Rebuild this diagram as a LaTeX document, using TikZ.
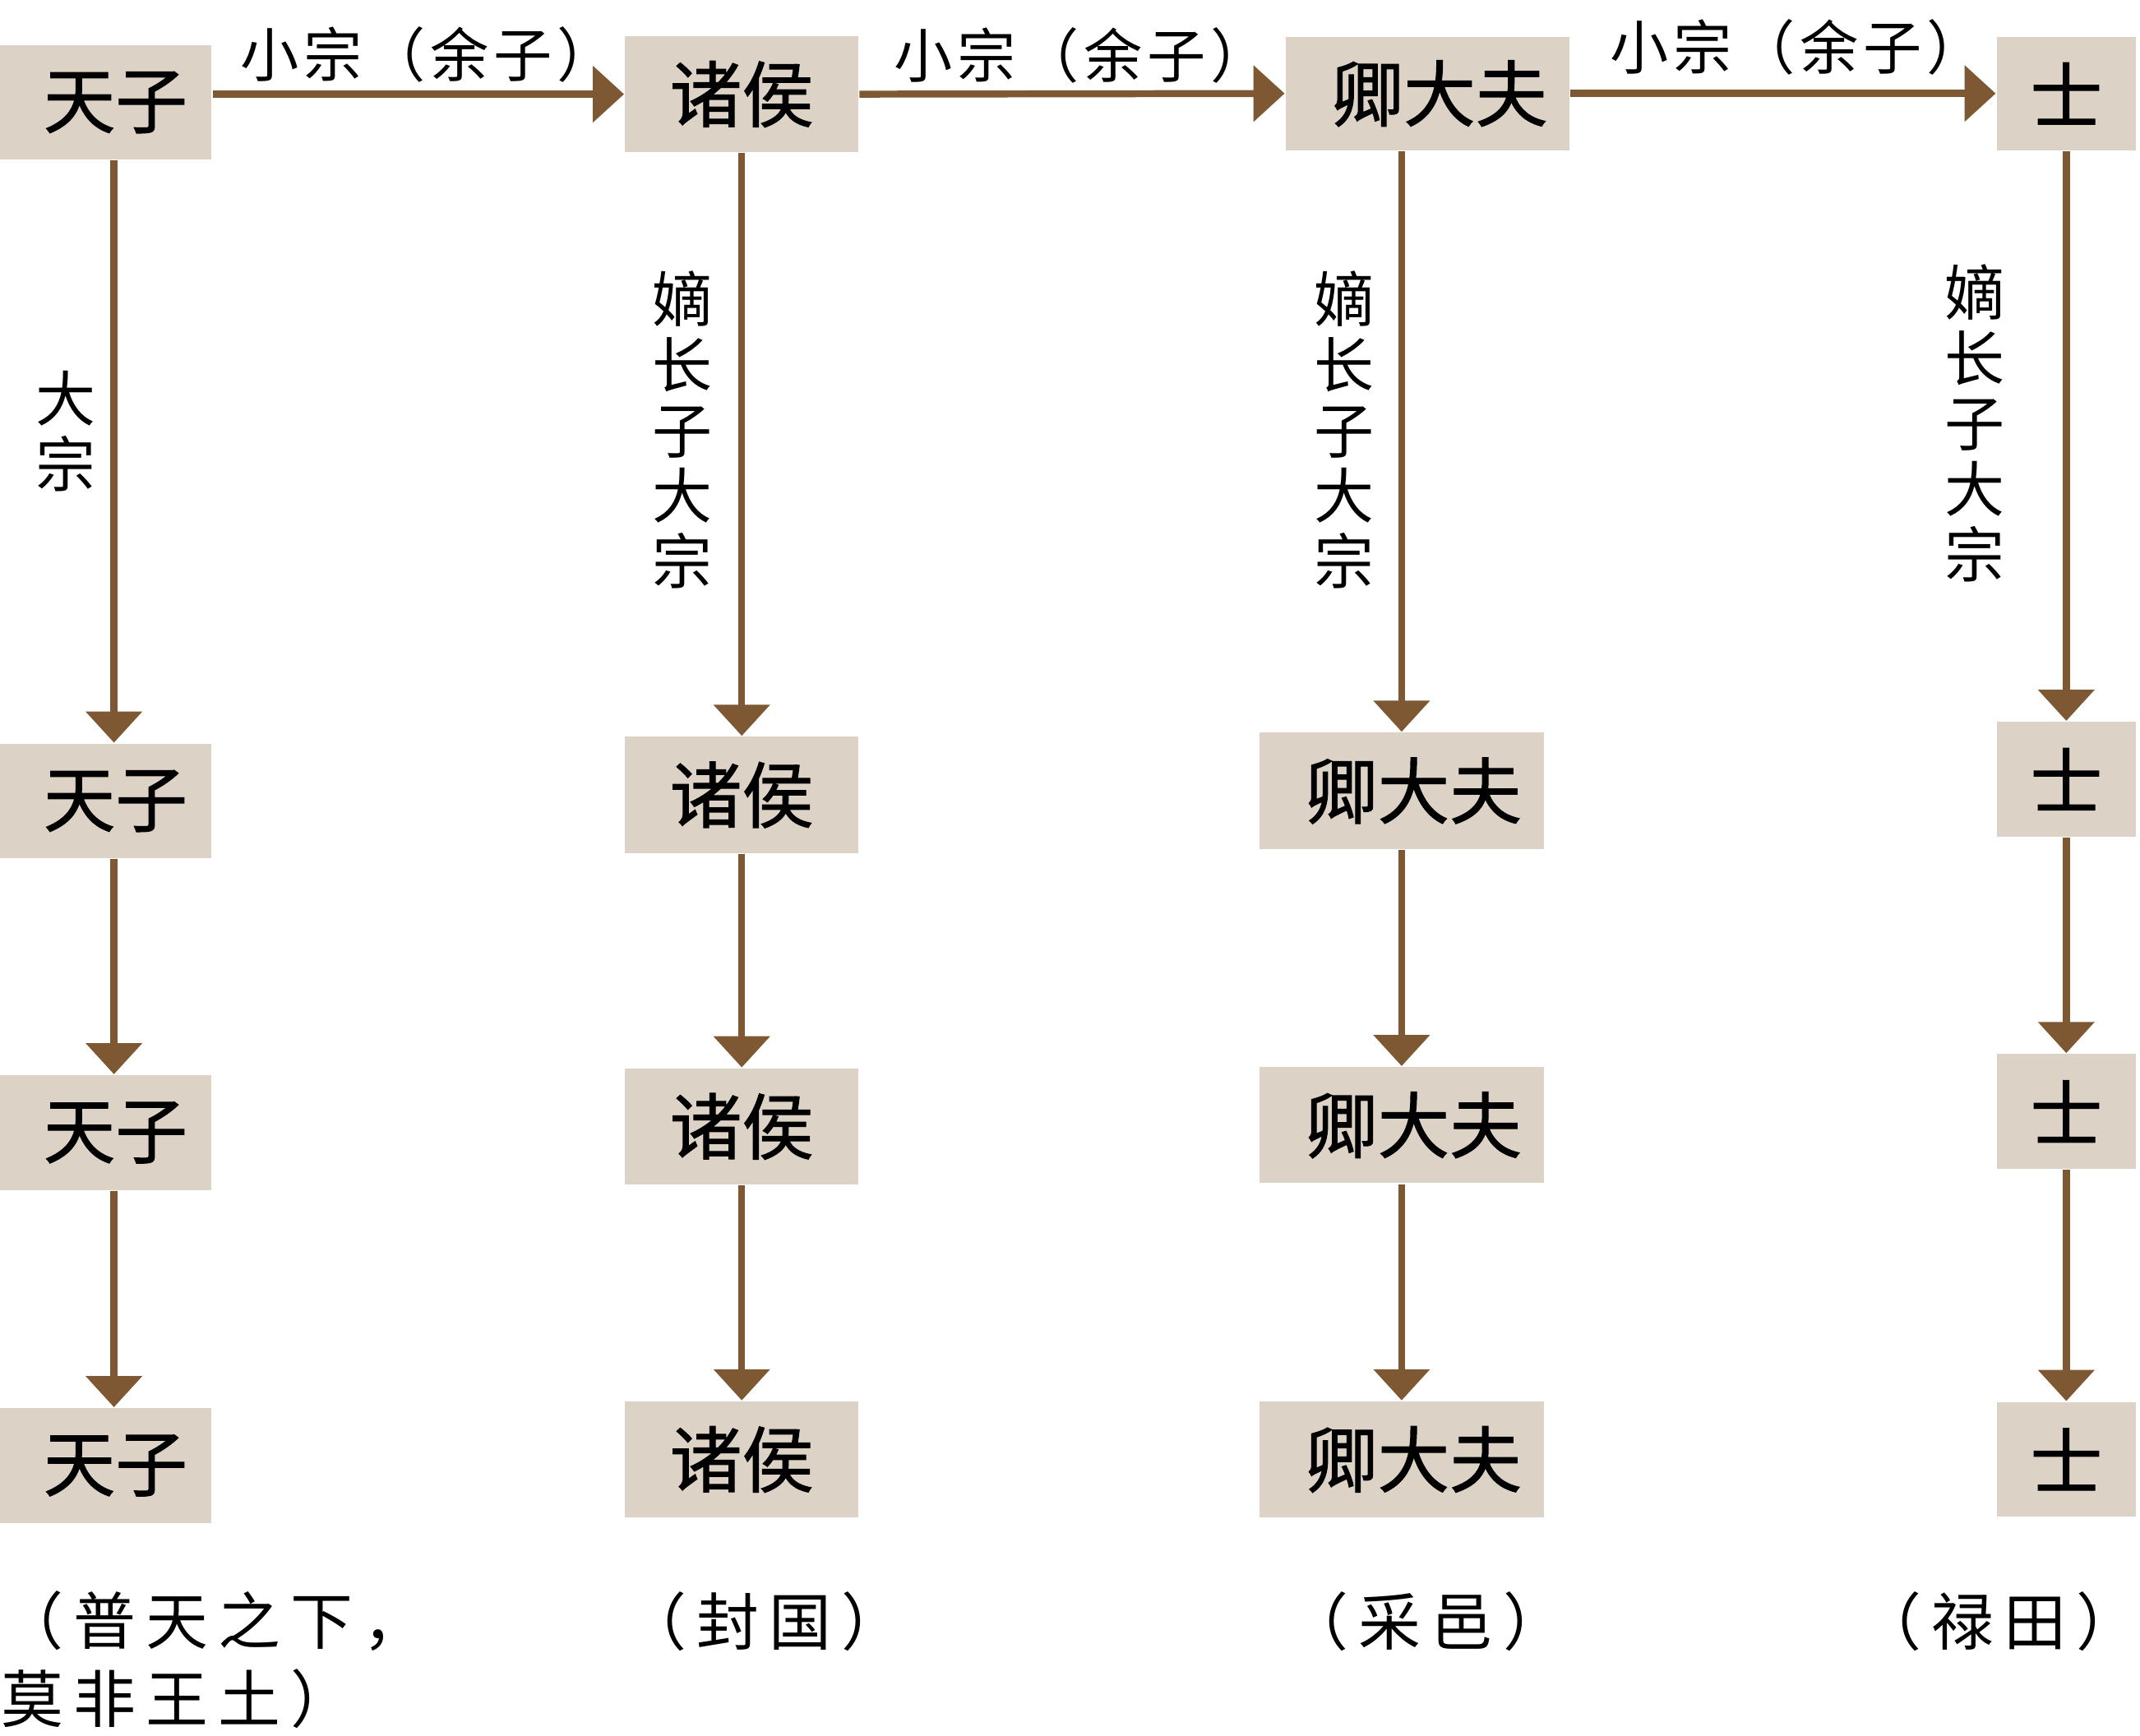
\documentclass[tikz,border=0pt]{standalone}
\usepackage{fontspec}
\newfontfamily\cjk{Noto Sans CJK SC}
\newfontfamily\cjkh[LetterSpace=8]{Noto Sans CJK SC}
\newfontfamily\cjks[LetterSpace=16]{Noto Sans CJK SC}
\newfontfamily\cjkb[FakeBold=1.2]{Noto Sans CJK SC}
\usetikzlibrary{arrows.meta}
\definecolor{boxfill}{RGB}{220,211,198}
\definecolor{arrbrown}{RGB}{125,88,50}
\begin{document}
\begin{tikzpicture}[x=0.01cm,y=-0.01cm,
  box/.style={fill=boxfill, inner sep=0pt, font=\cjkb\fontsize{15}{18}\selectfont},
  c1/.style={box, minimum width=1.55cm, minimum height=0.84cm},
  c2/.style={box, minimum width=1.71cm, minimum height=0.85cm},
  c3/.style={box, minimum width=2.08cm, minimum height=0.85cm},
  c4/.style={box, minimum width=1.02cm, minimum height=0.84cm},
  arr/.style={draw=arrbrown, line width=1.45pt, -{Triangle[width=11.5pt,length=6.5pt]}},
  hlab/.style={font=\cjkh\fontsize{12.2}{14}\selectfont, inner sep=0pt},
  vlab/.style={font=\cjk\fontsize{12.5}{13.66}\selectfont, align=center, inner sep=0pt},
  blab/.style={font=\cjks\fontsize{13}{16}\selectfont, inner sep=0pt}]
\useasboundingbox (0,0) rectangle (1568,1272);
% column 1
\node[c1] (t1) at (77.5,75) {\hspace*{4pt}天子};
\node[c1] (t2) at (77.5,587) {\hspace*{4pt}天子};
\node[c1] (t3) at (77.5,830) {\hspace*{4pt}天子};
\node[c1] (t4) at (77.5,1074) {\hspace*{4pt}天子};
% column 2
\node[c2] (s1) at (543.5,69) {诸侯};
\node[c2] (s2) at (543.5,582.5) {诸侯};
\node[c2] (s3) at (543.5,825.5) {诸侯};
\node[c2] (s4) at (543.5,1069.5) {诸侯};
% column 3
\node[c3, minimum height=0.83cm] (q1) at (1046,68.5) {\hspace*{5pt}卿大夫};
\node[c3] (q2) at (1027,579.5) {\hspace*{5pt}卿大夫};
\node[c3] (q3) at (1027,824.5) {\hspace*{5pt}卿大夫};
\node[c3] (q4) at (1027,1069.5) {\hspace*{5pt}卿大夫};
% column 4
\node[c4, minimum height=0.83cm] (u1) at (1514,68.5) {士};
\node[c4] (u2) at (1514,571) {士};
\node[c4] (u3) at (1514,814.5) {士};
\node[c4] (u4) at (1514,1069.5) {士};
% horizontal arrows
\draw[arr] (t1.east |- s1.west) -- node[hlab, midway, yshift=8.3pt, xshift=2pt]{小宗（余子）} (s1.west);
\draw[arr] (s1.east) -- node[hlab, midway, yshift=8pt, xshift=2pt]{小宗（余子）} (q1.west);
\draw[arr] (q1.east |- u1.west) -- node[hlab, midway, yshift=9.7pt, xshift=3pt]{小宗（余子）} (u1.west);
% vertical arrows
\draw[arr] (t1.south) ++(6,0) coordinate (t1s) -- (t1s |- t2.north);
\draw[arr] (t2.south) ++(6,0) coordinate (t2s) -- (t2s |- t3.north);
\draw[arr] (t3.south) ++(6,0) coordinate (t3s) -- (t3s |- t4.north);
\draw[arr] (s1.south) -- (s2.north);
\draw[arr] (s2.south) -- (s3.north);
\draw[arr] (s3.south) -- (s4.north);
\draw[arr] (q1.south -| q2.north) -- (q2.north);
\draw[arr] (q2.south) -- (q3.north);
\draw[arr] (q3.south) -- (q4.north);
\draw[arr] (u1.south) -- (u2.north);
\draw[arr] (u2.south) -- (u3.north);
\draw[arr] (u3.south) -- (u4.north);
% vertical labels
\node[vlab] (v1) at (48,316) {大\\宗};
\node[vlab] (v2) at (500,315) {嫡\\长\\子\\大\\宗};
\node[vlab] (v3) at (985,315) {嫡\\长\\子\\大\\宗};
\node[vlab] (v4) at (1447,310) {嫡\\长\\子\\大\\宗};
% bottom labels
\node[blab, anchor=west] (b1) at (0,1188) {（普天之下，};
\node[blab, anchor=west] (b1b) at (0,1245) {莫非王土）};
\node[blab] (b2) at (560,1188) {（封国）};
\node[blab] (b3) at (1045,1188) {（采邑）};
\node[blab, anchor=east] (b4) at (1568,1188) {（禄田）};
\end{tikzpicture}
\end{document}
